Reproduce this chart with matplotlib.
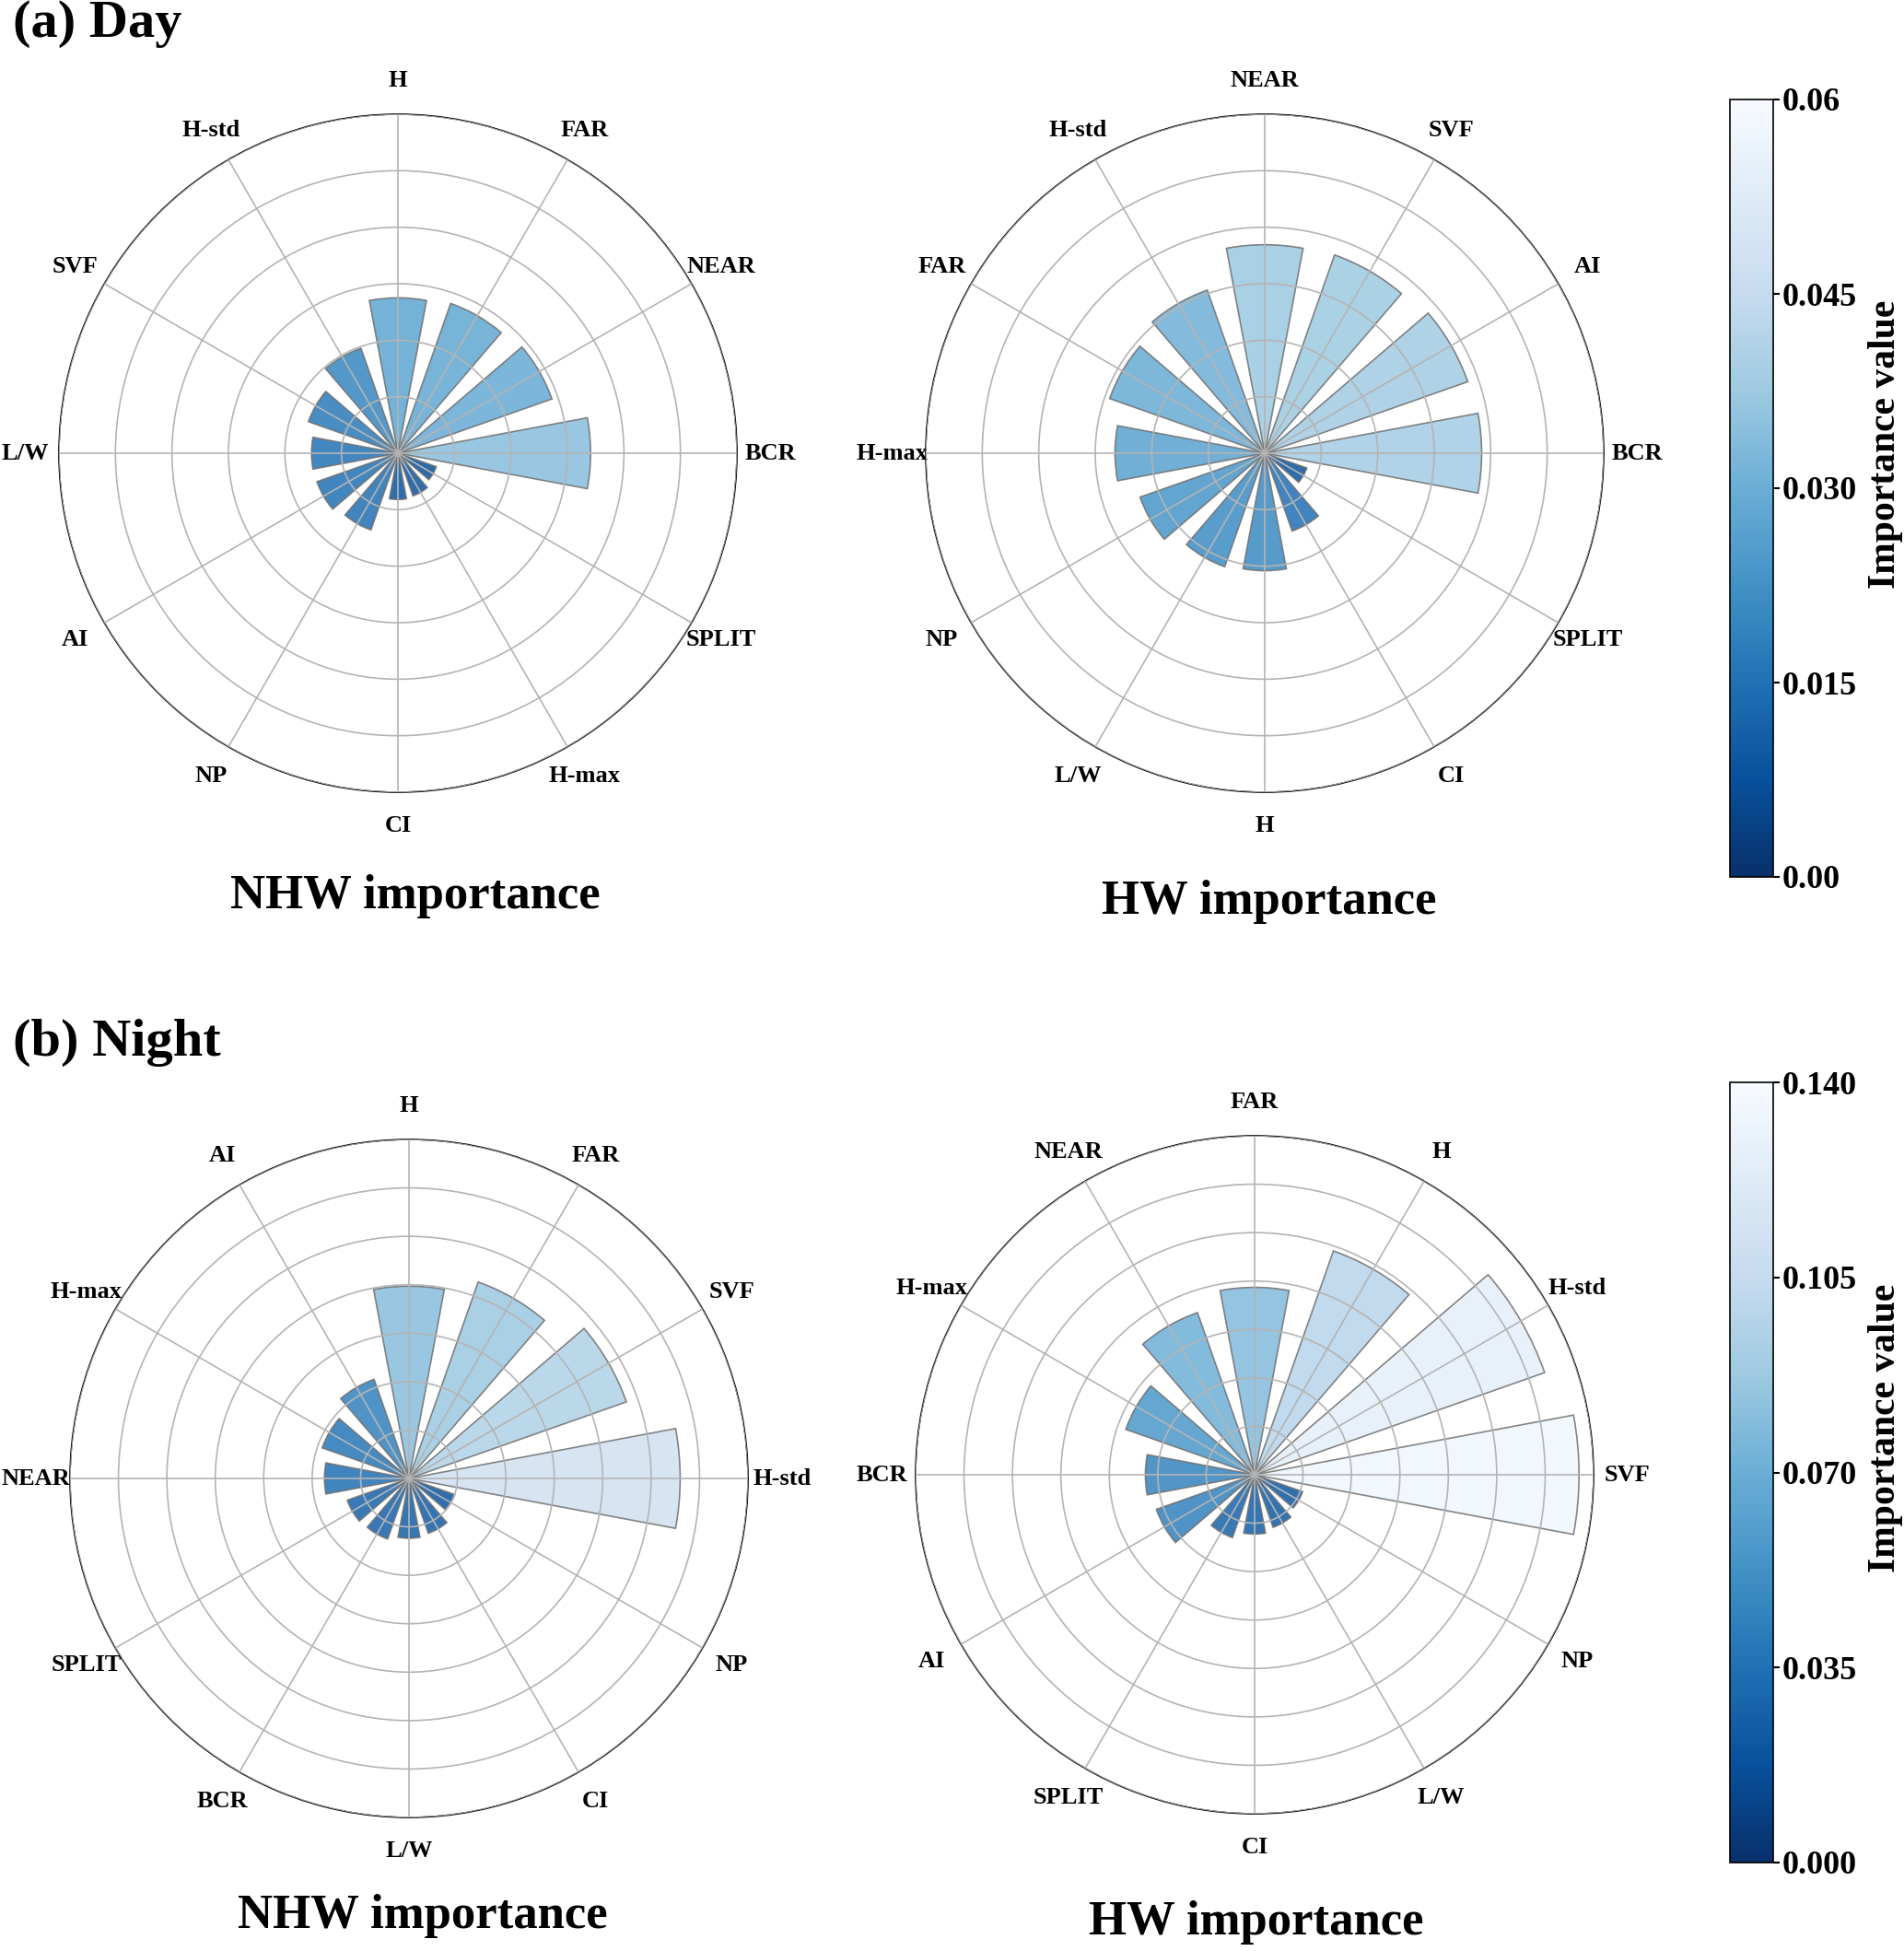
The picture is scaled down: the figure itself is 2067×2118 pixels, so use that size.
import numpy as np
import matplotlib
matplotlib.use('Agg')
import matplotlib.pyplot as plt
from matplotlib import cm, colors

plt.rcParams['font.family'] = ['Liberation Serif', 'DejaVu Serif']
plt.rcParams['font.weight'] = 'bold'

# Day, non-heatwave
day_nhw_labels = ['BCR', 'NEAR', 'FAR', 'H', 'H-std', 'SVF', 'L/W', 'AI', 'NP', 'CI', 'H-max', 'SPLIT']
day_nhw_vals = [0.0341, 0.0289, 0.0281, 0.0275, 0.0197, 0.0168, 0.0153, 0.0152, 0.0144, 0.0082, 0.0080, 0.0072]

# Day, heatwave
day_hw_labels = ['BCR', 'AI', 'SVF', 'NEAR', 'H-std', 'FAR', 'H-max', 'NP', 'L/W', 'H', 'CI', 'SPLIT']
day_hw_vals = [0.0384, 0.0381, 0.0372, 0.0369, 0.0306, 0.0291, 0.0265, 0.0234, 0.0213, 0.0208, 0.0146, 0.0079]

# Night, non-heatwave
night_nhw_labels = ['H-std', 'SVF', 'FAR', 'H', 'AI', 'H-max', 'NEAR', 'SPLIT', 'BCR', 'L/W', 'CI', 'NP']
night_nhw_vals = [0.112, 0.0952, 0.086, 0.0794, 0.0434, 0.038, 0.0349, 0.027, 0.0265, 0.0247, 0.024, 0.020]

# Night, heatwave
night_hw_labels = ['SVF', 'H-std', 'H', 'FAR', 'NEAR', 'H-max', 'BCR', 'AI', 'SPLIT', 'CI', 'L/W', 'NP']
night_hw_vals = [0.134, 0.127, 0.098, 0.0774, 0.071, 0.0564, 0.0451, 0.043, 0.0275, 0.0245, 0.023, 0.021]

day_max = 0.06
night_max = 0.14
day_cbar_ticks = [0.0, 0.015, 0.030, 0.045, 0.06]
day_cbar_labels = ['0.00', '0.015', '0.030', '0.045', '0.06']
night_cbar_ticks = [0.0, 0.035, 0.070, 0.105, 0.140]
night_cbar_labels = ['0.000', '0.035', '0.070', '0.105', '0.140']

W, H = 2067, 2118
fig = plt.figure(figsize=(W / 100, H / 100), dpi=100)
cmap = plt.get_cmap('Blues_r')


def px_axes(cx, cy, r):
    return [(cx - r) / W, (H - cy - r) / H, 2 * r / W, 2 * r / H]


def rose(rect, labels, vals, vmax, ring_step):
    ax = fig.add_axes(rect, projection='polar')
    n = len(labels)
    theta = np.arange(n) * 2 * np.pi / n
    norm = colors.Normalize(vmin=0, vmax=vmax)
    ax.bar(theta, vals, width=0.37, bottom=0, color=cmap(norm(np.array(vals))),
           alpha=0.85, edgecolor='#707070', linewidth=1.2, zorder=1)
    ax.set_ylim(0, vmax)
    ax.set_yticks(np.arange(ring_step, vmax + 1e-9, ring_step))
    ax.set_yticklabels([])
    ax.set_xticks(theta)
    ax.set_xticklabels(labels, fontsize=19, fontweight='bold')
    ax.tick_params(axis='x', pad=16)
    ax.grid(True, color='#b4b4b4', linewidth=1.2, zorder=3)
    ax.set_axisbelow(False)
    ax.spines['polar'].set_linewidth(1.2)
    return ax, norm


_, day_norm = rose(px_axes(432, 492, 368), day_nhw_labels, day_nhw_vals, day_max, 0.01)
rose(px_axes(1373, 492, 368), day_hw_labels, day_hw_vals, day_max, 0.01)
_, night_norm = rose(px_axes(444, 1605, 368), night_nhw_labels, night_nhw_vals, night_max, 0.02)
rose(px_axes(1362, 1601, 368), night_hw_labels, night_hw_vals, night_max, 0.02)

# colorbars
for norm, ticks, tlabels, top, bot in [(day_norm, day_cbar_ticks, day_cbar_labels, 108, 952),
                                       (night_norm, night_cbar_ticks, night_cbar_labels, 1175, 2022)]:
    cax = fig.add_axes([1878 / W, (H - bot) / H, 47 / W, (bot - top) / H])
    cb = fig.colorbar(cm.ScalarMappable(norm=norm, cmap=cmap), cax=cax)
    cb.set_ticks(ticks)
    cb.set_ticklabels(tlabels)
    cb.ax.tick_params(labelsize=26, width=1.5, length=5, pad=2)
    for t in cb.ax.get_yticklabels():
        t.set_fontweight('bold')
    cb.set_label('Importance value', fontsize=30, fontweight='bold')
    cb.ax.yaxis.set_label_coords(3.2, 0.557)
    cb.outline.set_linewidth(1.2)

# panel titles
fig.text(14 / W, 1 - 26 / H, '(a) Day', fontsize=42, fontweight='bold', va='center', ha='left')
fig.text(14 / W, 1 - 1132 / H, '(b) Night', fontsize=42, fontweight='bold', va='center', ha='left')
fig.text(451 / W, 1 - 973 / H, 'NHW importance', fontsize=38, fontweight='bold', ha='center', va='center')
fig.text(1378 / W, 1 - 979 / H, 'HW importance', fontsize=38, fontweight='bold', ha='center', va='center')
fig.text(459 / W, 1 - 2080 / H, 'NHW importance', fontsize=38, fontweight='bold', ha='center', va='center')
fig.text(1364 / W, 1 - 2087 / H, 'HW importance', fontsize=38, fontweight='bold', ha='center', va='center')

fig.savefig('out.png', dpi=100, facecolor='white')
